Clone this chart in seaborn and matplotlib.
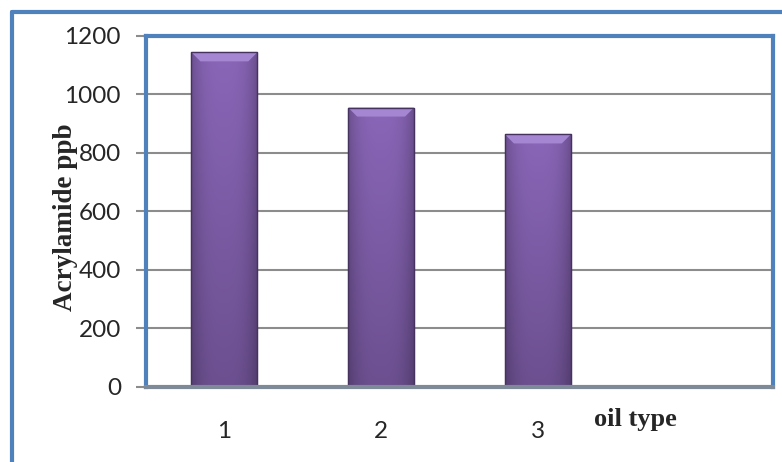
import numpy as np
import pandas as pd
import matplotlib
matplotlib.use("Agg")
import matplotlib.pyplot as plt
import seaborn as sns
from matplotlib.lines import Line2D
from matplotlib.patches import Polygon
from matplotlib.colors import to_rgb

# data
oil_types = ["1", "2", "3"]
acrylamide_ppb = [1144, 955, 863]
y_ticks = [0, 200, 400, 600, 800, 1000, 1200]

df = pd.DataFrame({"oil type": oil_types, "Acrylamide ppb": acrylamide_ppb})

sns.set_style("white")
plt.rcParams["font.family"] = ["Lato", "DejaVu Sans"]

W, H = 782, 462
fig = plt.figure(figsize=(W / 100, H / 100), dpi=100)
ax = fig.add_axes([146 / W, 1 - 386.5 / H, 627 / W, 350.5 / H])

sns.barplot(data=df, x="oil type", y="Acrylamide ppb", color="#8563b3",
            saturation=1, width=0.42, edgecolor="#4a3566", linewidth=0.8,
            ax=ax, zorder=3)

ax.set_xlim(-0.5, 3.5)
ax.set_ylim(0, 1200)
ax.set_yticks(y_ticks)

# purple gradient + bevelled top like the Excel bars
base = np.array(to_rgb("#8a66b8"))
nx, ny = 64, 64
hx = 1 - 0.22 * np.abs(np.linspace(-1, 1, nx)) ** 3
vy = np.linspace(1.0, 0.78, ny)
img = np.clip(base[None, None, :] * (hx[None, :, None] * vy[:, None, None]), 0, 1)

px_y = 1200 / 350.5
px_x = 4 / 627
for bar in list(ax.patches):
    x0, w, h = bar.get_x(), bar.get_width(), bar.get_height()
    im = ax.imshow(img, extent=(x0, x0 + w, 0, h), aspect="auto",
                   origin="upper", zorder=3.5, interpolation="bilinear")
    im.set_clip_path(bar)
    d, dx = 9 * px_y, 9 * px_x
    bevel = Polygon([(x0, h), (x0 + w, h), (x0 + w - dx, h - d), (x0 + dx, h - d)],
                    closed=True, facecolor="#a586d2", edgecolor="none", zorder=3.6)
    ax.add_patch(bevel)
    ax.add_patch(Polygon([(x0, h), (x0 + w, h), (x0 + w, 0), (x0, 0)], closed=True,
                         facecolor="none", edgecolor="#46325f", lw=1.0, zorder=3.7))

ax.set_xlim(-0.5, 3.5)
ax.set_ylim(0, 1200)

ax.yaxis.grid(True, color="#8c8c8c", lw=1.5)
ax.set_axisbelow(True)

for side in ["top", "right", "left"]:
    ax.spines[side].set_color("#4F81BD")
    ax.spines[side].set_linewidth(3)
ax.spines["bottom"].set_color("#7f8a99")
ax.spines["bottom"].set_linewidth(3)
ax.spines["bottom"].set_zorder(6)

ax.tick_params(axis="y", left=True, length=7, width=1.5, color="#8c8c8c",
               pad=11, labelsize=17.5)
ax.tick_params(axis="x", bottom=False, length=0, pad=25, labelsize=17.5)

ax.set_xlabel("oil type", fontfamily="Liberation Serif", fontweight="bold", fontsize=19)
ax.xaxis.set_label_coords(0.781, -0.06)
ax.set_ylabel("Acrylamide ppb", fontfamily="Liberation Serif", fontweight="bold", fontsize=19.5)
ax.yaxis.set_label_coords(-0.108, 0.484)

# outer chart border (only left and top visible)
fig.add_artist(Line2D([12 / W, 12 / W], [0, 1 - 12 / H], transform=fig.transFigure,
                      color="#4F81BD", lw=3))
fig.add_artist(Line2D([12 / W, 1], [1 - 12 / H, 1 - 12 / H], transform=fig.transFigure,
                      color="#4F81BD", lw=3))

fig.savefig("out.png", dpi=100)
